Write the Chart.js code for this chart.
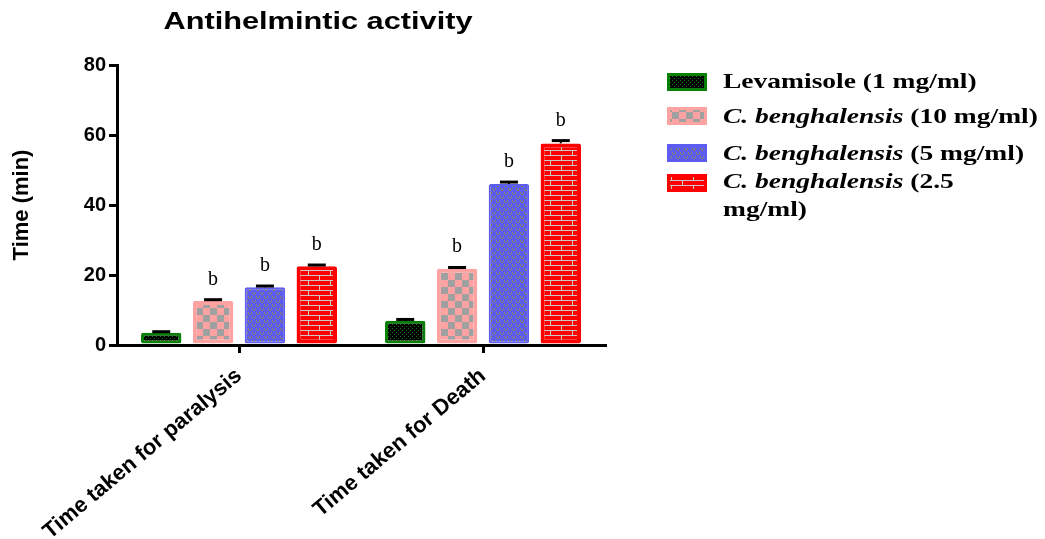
<!DOCTYPE html>
<html>
<head>
<meta charset="utf-8">
<script src="https://cdn.jsdelivr.net/npm/chart.js@4/dist/chart.umd.min.js"></script>
<style>
  html, body { margin: 0; padding: 0; background: #ffffff; }
  #wrap { width: 1045px; height: 539px; position: relative; }
</style>
</head>
<body>
<div id="wrap"><canvas id="chart" width="1045" height="539"></canvas></div>
<script>
// Groups on the x axis
const categories = ['Time taken for paralysis', 'Time taken for Death'];

// Mean time (min) and SEM for each treatment
const levamisole    = [3.5, 6.9];
const levamisoleSem = [0.3, 0.4];
const levamisoleSig = ['', ''];

const cb10    = [12.6, 21.8];
const cb10Sem = [0.35, 0.35];
const cb10Sig = ['b', 'b'];

const cb5    = [16.5, 46.0];
const cb5Sem = [0.35, 0.55];
const cb5Sig = ['b', 'b'];

const cb25    = [22.5, 57.6];
const cb25Sem = [0.35, 0.8];
const cb25Sig = ['b', 'b'];

const yTicks = [0, 20, 40, 60, 80];

// Legend entries: each line is a list of [text, italic] runs
const legendLines = [
  [[['Levamisole (1 mg/ml)', false]]],
  [[['C. benghalensis', true], [' (10 mg/ml)', false]]],
  [[['C. benghalensis', true], [' (5 mg/ml)', false]]],
  [[['C. benghalensis', true], [' (2.5', false]], [['mg/ml)', false]]]
];

const SERIF = '"Liberation Serif", "Times New Roman", serif';
const SANS = '"Liberation Sans", Arial, sans-serif';

function makePattern(w, h, draw) {
  const c = document.createElement('canvas');
  c.width = w; c.height = h;
  const g = c.getContext('2d');
  draw(g);
  return document.getElementById('chart').getContext('2d').createPattern(c, 'repeat');
}

const solid = ['rgb(8,128,8)', 'rgb(255,162,162)', 'rgb(92,92,240)', 'rgb(255,0,0)'];
const borders = [3, 4, 2, 4];

const fills = [
  // dark mesh on green
  makePattern(4, 4, g => {
    g.fillStyle = '#000'; g.fillRect(0, 0, 4, 4);
    g.fillStyle = 'rgb(8,128,8)'; g.fillRect(0, 0, 1, 1); g.fillRect(2, 2, 1, 1);
  }),
  // grey checkers on pink
  makePattern(14, 14, g => {
    g.fillStyle = 'rgb(255,162,162)'; g.fillRect(0, 0, 14, 14);
    g.fillStyle = 'rgb(160,160,160)'; g.fillRect(0, 0, 7, 7); g.fillRect(7, 7, 7, 7);
  }),
  // olive marks on blue
  makePattern(8, 8, g => {
    g.fillStyle = 'rgb(92,92,240)'; g.fillRect(0, 0, 8, 8);
    g.fillStyle = 'rgb(138,130,110)';
    g.fillRect(0, 0, 1, 2); g.fillRect(1, 2, 2, 1); g.fillRect(3, 0, 1, 2);
    g.fillRect(4, 4, 1, 2); g.fillRect(5, 6, 2, 1); g.fillRect(7, 4, 1, 2);
  }),
  // light grey bricks on red
  makePattern(22, 10, g => {
    g.fillStyle = 'rgb(255,0,0)'; g.fillRect(0, 0, 22, 10);
    g.fillStyle = 'rgb(205,200,200)';
    g.fillRect(0, 0, 22, 1); g.fillRect(0, 5, 22, 1);
    g.fillRect(0, 0, 1, 5); g.fillRect(11, 5, 1, 5);
  })
];

const sems = [levamisoleSem, cb10Sem, cb5Sem, cb25Sem];
const sigs = [levamisoleSig, cb10Sig, cb5Sig, cb25Sig];

// Error caps (mean + SEM) and significance letters
const errorBars = {
  id: 'errorBars',
  afterDatasetsDraw(chart) {
    const ctx = chart.ctx;
    const y = chart.scales.y;
    chart.data.datasets.forEach((ds, di) => {
      const meta = chart.getDatasetMeta(di);
      meta.data.forEach((bar, i) => {
        const top = y.getPixelForValue(ds.data[i] + sems[di][i]);
        ctx.save();
        ctx.strokeStyle = '#000';
        ctx.lineWidth = 2;
        ctx.beginPath(); ctx.moveTo(bar.x, bar.y); ctx.lineTo(bar.x, top); ctx.stroke();
        ctx.lineWidth = 3;
        ctx.beginPath(); ctx.moveTo(bar.x - 9, top); ctx.lineTo(bar.x + 9, top); ctx.stroke();
        const s = sigs[di][i];
        if (s) {
          ctx.fillStyle = '#000';
          ctx.font = '20px ' + SERIF;
          ctx.textAlign = 'center';
          ctx.textBaseline = 'alphabetic';
          ctx.fillText(s, bar.x, top - 15);
        }
        ctx.restore();
      });
    });
  }
};

// Title and legend drawn with a slight horizontal stretch
const decorations = {
  id: 'decorations',
  afterDraw(chart) {
    const ctx = chart.ctx;
    ctx.save();
    ctx.fillStyle = '#000';
    ctx.translate(318, 29);
    ctx.scale(1.28, 1);
    ctx.font = 'bold 24px ' + SANS;
    ctx.textAlign = 'center';
    ctx.fillText('Antihelmintic activity', 0, 0);
    ctx.restore();

    const swatchY = [73, 107, 144, 174];
    const lineBase = [[88], [123], [160], [188, 216]];
    legendLines.forEach((lines, k) => {
      ctx.save();
      ctx.fillStyle = solid[k];
      ctx.fillRect(667, swatchY[k], 40, 18);
      ctx.fillStyle = fills[k];
      ctx.fillRect(670, swatchY[k] + 3, 34, 12);
      ctx.restore();
      lines.forEach((runs, li) => {
        ctx.save();
        ctx.fillStyle = '#000';
        ctx.translate(723, lineBase[k][li]);
        ctx.scale(1.31, 1);
        let x = 0;
        runs.forEach(([t, it]) => {
          ctx.font = (it ? 'italic ' : '') + 'bold 21px ' + SERIF;
          ctx.fillText(t, x, 0);
          x += ctx.measureText(t).width;
        });
        ctx.restore();
      });
    });
  }
};

const names = legendLines.map(l => l.map(r => r.map(x => x[0]).join('')).join(' '));
const values = [levamisole, cb10, cb5, cb25];

new Chart(document.getElementById('chart'), {
  type: 'bar',
  data: {
    labels: categories,
    datasets: values.map((v, i) => ({
      label: names[i],
      data: v,
      backgroundColor: fills[i],
      borderColor: solid[i],
      borderWidth: borders[i],
      borderRadius: 2,
      borderSkipped: false,
      categoryPercentage: 0.85,
      barPercentage: 0.78
    }))
  },
  options: {
    responsive: false,
    animation: false,
    layout: { padding: { top: 65, right: 440, left: 0, bottom: 0 } },
    plugins: { legend: { display: false }, title: { display: false }, tooltip: { enabled: false } },
    scales: {
      x: {
        offset: true,
        grid: { offset: false, drawOnChartArea: false, color: '#000', lineWidth: 3, tickLength: 8 },
        border: { display: true, color: '#000', width: 3 },
        ticks: {
          color: '#000',
          font: { family: SANS, size: 22, weight: 'bold' },
          minRotation: 40, maxRotation: 40, padding: 10
        },
        afterFit(s) { s.height = 194; }
      },
      y: {
        min: 0, max: 80,
        afterBuildTicks(s) { s.ticks = yTicks.map(v => ({ value: v })); },
        grid: { drawOnChartArea: false, color: '#000', lineWidth: 3, tickLength: 8 },
        border: { display: true, color: '#000', width: 3 },
        ticks: { color: '#000', font: { family: SANS, size: 20, weight: 'bold' }, padding: 3 },
        title: {
          display: true, text: 'Time (min)', color: '#000',
          font: { family: SANS, size: 22, weight: 'bold' },
          padding: { top: 9, bottom: 0 }
        },
        afterFit(s) { s.width = 117; }
      }
    }
  },
  plugins: [errorBars, decorations]
});
</script>
</body>
</html>
